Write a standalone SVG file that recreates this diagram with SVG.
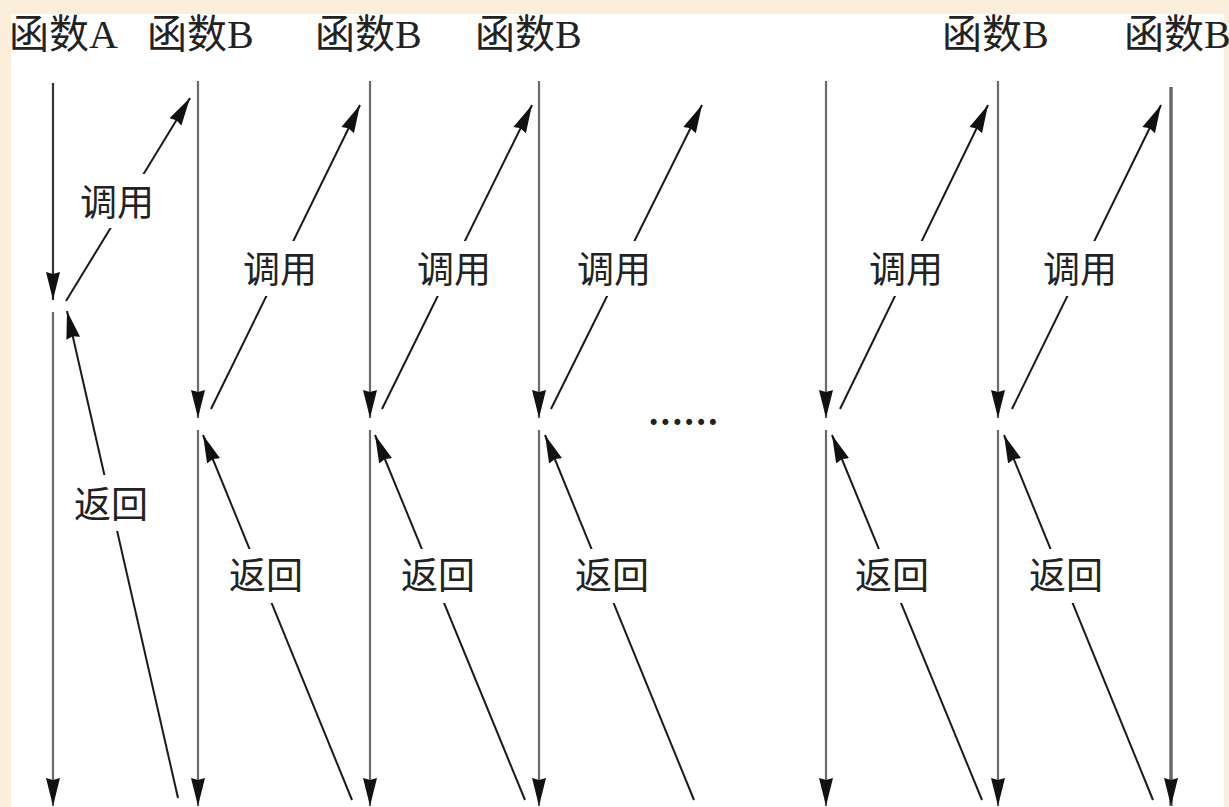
<svg xmlns="http://www.w3.org/2000/svg" width="1229" height="807" viewBox="0 0 1229 807">
<defs>
<marker id="ah" markerUnits="userSpaceOnUse" markerWidth="30" markerHeight="16" refX="28" refY="8" orient="auto" viewBox="0 0 30 16">
<path d="M0,1 L28,8 L0,15 L2,8 z" fill="#111"/>
</marker>
<style>
.lbl{font-family:"Liberation Serif","Noto Sans CJK SC",serif;font-size:37px;fill:#222}
.head{font-size:40px}
.mid{text-anchor:middle}
.knock{fill:#fff}
.life{stroke:#6a6a6a;stroke-width:2.2;fill:none}
.lifeA{stroke:#333;stroke-width:2.2;fill:none}
.life6{stroke:#666;stroke-width:3.4;fill:none}
.msg{stroke:#1a1a1a;stroke-width:2;fill:none}
</style>
</defs>
<rect x="0" y="0" width="1229" height="807" fill="#FBEEDA"/>
<rect x="11" y="14" width="1213" height="793" fill="#fff"/>

<g id="connectors">
<line class="lifeA" x1="53" y1="83" x2="53" y2="300" marker-end="url(#ah)"/>
<line class="life" x1="53" y1="312" x2="53" y2="806" marker-end="url(#ah)"/>
<line class="life" x1="198" y1="81" x2="198" y2="418" marker-end="url(#ah)"/>
<line class="life" x1="198" y1="430" x2="198" y2="806" marker-end="url(#ah)"/>
<line class="life" x1="370" y1="81" x2="370" y2="418" marker-end="url(#ah)"/>
<line class="life" x1="370" y1="430" x2="370" y2="806" marker-end="url(#ah)"/>
<line class="life" x1="539" y1="81" x2="539" y2="418" marker-end="url(#ah)"/>
<line class="life" x1="539" y1="430" x2="539" y2="806" marker-end="url(#ah)"/>
<line class="life" x1="826" y1="81" x2="826" y2="418" marker-end="url(#ah)"/>
<line class="life" x1="826" y1="430" x2="826" y2="806" marker-end="url(#ah)"/>
<line class="life" x1="998" y1="81" x2="998" y2="418" marker-end="url(#ah)"/>
<line class="life" x1="998" y1="430" x2="998" y2="806" marker-end="url(#ah)"/>
<line class="life6" x1="1171" y1="87" x2="1171" y2="806" marker-end="url(#ah)"/>
<line class="msg" x1="66" y1="301" x2="190" y2="98" marker-end="url(#ah)"/>
<line class="msg" x1="211" y1="409" x2="360" y2="105" marker-end="url(#ah)"/>
<line class="msg" x1="382" y1="409" x2="532" y2="105" marker-end="url(#ah)"/>
<line class="msg" x1="551" y1="409" x2="702" y2="105" marker-end="url(#ah)"/>
<line class="msg" x1="840" y1="409" x2="988" y2="105" marker-end="url(#ah)"/>
<line class="msg" x1="1012" y1="409" x2="1161" y2="105" marker-end="url(#ah)"/>
<line class="msg" x1="178" y1="798" x2="67" y2="311" marker-end="url(#ah)"/>
<line class="msg" x1="352" y1="800" x2="203" y2="435" marker-end="url(#ah)"/>
<line class="msg" x1="525" y1="800" x2="375" y2="435" marker-end="url(#ah)"/>
<line class="msg" x1="694" y1="800" x2="545" y2="435" marker-end="url(#ah)"/>
<line class="msg" x1="982" y1="800" x2="832" y2="435" marker-end="url(#ah)"/>
<line class="msg" x1="1153" y1="800" x2="1004" y2="435" marker-end="url(#ah)"/>
</g>

<g id="head-A"><text class="lbl head" x="9" y="48">函数A</text></g>
<g id="head-B1"><text class="lbl head" x="147" y="48">函数B</text></g>
<g id="head-B2"><text class="lbl head" x="315" y="48">函数B</text></g>
<g id="head-B3"><text class="lbl head" x="475" y="48">函数B</text></g>
<g id="head-B5"><text class="lbl head" x="942" y="48">函数B</text></g>
<g id="head-B6"><text class="lbl head" x="1124" y="48">函数B</text></g>

<g id="call-A"><rect class="knock" x="77" y="174" width="80" height="54"/><text class="lbl mid" x="117" y="216">调用</text></g>
<g id="call-1"><rect class="knock" x="240" y="241" width="80" height="55"/><text class="lbl mid" x="280" y="283">调用</text></g>
<g id="call-2"><rect class="knock" x="414" y="241" width="80" height="55"/><text class="lbl mid" x="454" y="283">调用</text></g>
<g id="call-3"><rect class="knock" x="574" y="241" width="80" height="55"/><text class="lbl mid" x="614" y="283">调用</text></g>
<g id="call-4"><rect class="knock" x="866" y="241" width="80" height="55"/><text class="lbl mid" x="906" y="283">调用</text></g>
<g id="call-5"><rect class="knock" x="1040" y="241" width="80" height="55"/><text class="lbl mid" x="1080" y="283">调用</text></g>

<g id="ret-A"><rect class="knock" x="71" y="475" width="80" height="56"/><text class="lbl mid" x="111" y="518">返回</text></g>
<g id="ret-1"><rect class="knock" x="226" y="549" width="80" height="54"/><text class="lbl mid" x="266" y="589">返回</text></g>
<g id="ret-2"><rect class="knock" x="398" y="549" width="80" height="54"/><text class="lbl mid" x="438" y="589">返回</text></g>
<g id="ret-3"><rect class="knock" x="572" y="549" width="80" height="54"/><text class="lbl mid" x="612" y="589">返回</text></g>
<g id="ret-4"><rect class="knock" x="852" y="549" width="80" height="54"/><text class="lbl mid" x="892" y="589">返回</text></g>
<g id="ret-5"><rect class="knock" x="1026" y="549" width="80" height="54"/><text class="lbl mid" x="1066" y="589">返回</text></g>

<g id="ellipsis"><text class="lbl" x="649" y="425" style="letter-spacing:2.6px;font-weight:bold">......</text></g>
</svg>
